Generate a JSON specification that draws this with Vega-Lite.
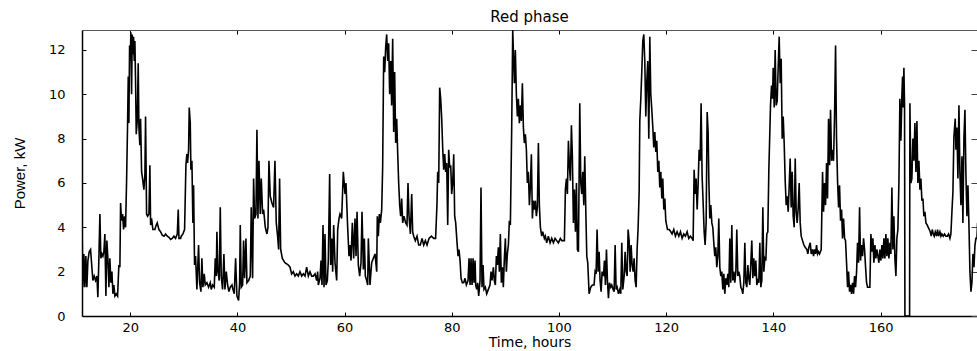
{
"$schema": "https://vega.github.io/schema/vega-lite/v6.json",
"width": 895, "height": 286,
"autosize": {"type": "none"},
"padding": {"left": 82, "top": 30, "right": 0, "bottom": 35},
"background": "white",
"view": {"stroke": null},
"title": {"text": "Red phase", "font": "DejaVu Sans", "fontSize": 15, "fontWeight": "normal", "color": "black", "offset": 5, "anchor": "middle"},
"data": {"values": [
{"t":11.04,"p":3.5},{"t":11.16,"p":1.3},{"t":11.35,"p":2.8},{"t":11.54,"p":1.3},{"t":11.72,"p":2.7},{"t":11.91,"p":1.3},{"t":12.1,"p":2.5},{"t":12.35,"p":2.9},{"t":12.6,"p":3.0},{"t":12.78,"p":2.4},{"t":13.03,"p":1.6},{"t":13.28,"p":1.8},{"t":13.53,"p":1.6},{"t":13.78,"p":1.8},{"t":13.96,"p":0.85},{"t":14.15,"p":2.6},{"t":14.34,"p":4.6},{"t":14.52,"p":2.6},{"t":14.71,"p":2.8},{"t":14.9,"p":2.7},{"t":15.08,"p":2.9},{"t":15.27,"p":3.7},{"t":15.46,"p":0.9},{"t":15.64,"p":3.4},{"t":15.83,"p":2.6},{"t":16.02,"p":1.3},{"t":16.2,"p":2.6},{"t":16.39,"p":1.5},{"t":16.58,"p":2.0},{"t":16.77,"p":1.0},{"t":16.95,"p":1.4},{"t":17.14,"p":0.9},{"t":17.39,"p":1.0},{"t":17.64,"p":0.9},{"t":17.88,"p":2.3},{"t":18.07,"p":2.2},{"t":18.2,"p":5.1},{"t":18.38,"p":4.3},{"t":18.57,"p":4.6},{"t":18.76,"p":3.9},{"t":18.94,"p":4.5},{"t":19.13,"p":4.0},{"t":19.32,"p":6.1},{"t":19.5,"p":8.6},{"t":19.63,"p":10.8},{"t":19.75,"p":8.7},{"t":19.88,"p":12.2},{"t":20.0,"p":11.5},{"t":20.12,"p":12.8},{"t":20.25,"p":10.0},{"t":20.37,"p":12.7},{"t":20.5,"p":11.8},{"t":20.62,"p":12.6},{"t":20.75,"p":11.5},{"t":20.87,"p":12.4},{"t":21.0,"p":10.5},{"t":21.12,"p":8.2},{"t":21.31,"p":8.8},{"t":21.49,"p":11.4},{"t":21.62,"p":8.5},{"t":21.8,"p":7.7},{"t":21.93,"p":8.9},{"t":22.12,"p":6.5},{"t":22.3,"p":6.2},{"t":22.55,"p":5.7},{"t":22.74,"p":6.4},{"t":22.86,"p":9.0},{"t":23.05,"p":4.6},{"t":23.24,"p":4.5},{"t":23.49,"p":4.6},{"t":23.67,"p":6.8},{"t":23.8,"p":4.1},{"t":23.98,"p":4.4},{"t":24.23,"p":3.9},{"t":24.6,"p":3.9},{"t":24.85,"p":4.1},{"t":25.04,"p":4.2},{"t":25.35,"p":3.9},{"t":25.66,"p":3.8},{"t":25.97,"p":3.65},{"t":26.29,"p":3.6},{"t":26.6,"p":3.7},{"t":26.91,"p":3.6},{"t":27.22,"p":3.55},{"t":27.53,"p":3.45},{"t":27.84,"p":3.5},{"t":28.15,"p":3.6},{"t":28.46,"p":3.5},{"t":28.78,"p":3.7},{"t":28.96,"p":4.8},{"t":29.09,"p":3.5},{"t":29.4,"p":3.5},
{"t":29.52,"p":3.6},{"t":29.83,"p":3.7},{"t":30.14,"p":3.9},{"t":30.39,"p":6.8},{"t":30.57,"p":7.3},{"t":30.7,"p":6.9},{"t":30.89,"p":7.5},{"t":31.01,"p":9.4},{"t":31.2,"p":8.7},{"t":31.32,"p":6.6},{"t":31.51,"p":7.0},{"t":31.69,"p":4.2},{"t":31.82,"p":5.9},{"t":32.0,"p":2.3},{"t":32.19,"p":2.7},{"t":32.44,"p":1.2},{"t":32.75,"p":3.2},{"t":32.94,"p":1.5},{"t":33.19,"p":1.1},{"t":33.37,"p":2.6},{"t":33.56,"p":1.3},{"t":33.81,"p":1.9},{"t":34.0,"p":1.4},{"t":34.31,"p":1.5},{"t":34.62,"p":1.3},{"t":34.93,"p":1.5},{"t":35.12,"p":1.2},{"t":35.37,"p":1.4},{"t":35.68,"p":1.3},{"t":35.86,"p":2.6},{"t":36.05,"p":1.8},{"t":36.17,"p":3.8},{"t":36.36,"p":2.0},{"t":36.61,"p":1.6},{"t":36.8,"p":4.9},{"t":36.98,"p":1.8},{"t":37.23,"p":1.2},{"t":37.48,"p":2.8},{"t":37.67,"p":1.2},{"t":37.92,"p":2.0},{"t":38.17,"p":1.4},{"t":38.41,"p":1.1},{"t":38.66,"p":1.3},{"t":38.98,"p":1.4},{"t":39.16,"p":1.2},{"t":39.41,"p":1.0},{"t":39.66,"p":2.6},{"t":39.91,"p":0.9},{"t":40.22,"p":0.7},{"t":40.41,"p":1.5},{"t":40.53,"p":4.1},{"t":40.72,"p":1.3},{"t":40.97,"p":1.4},{"t":41.15,"p":3.4},{"t":41.34,"p":1.7},{"t":41.59,"p":3.5},{"t":41.78,"p":1.5},{"t":42.09,"p":1.6},{"t":42.4,"p":1.8},{"t":42.58,"p":4.9},{"t":42.83,"p":1.7},{"t":43.02,"p":6.2},{"t":43.21,"p":4.4},{"t":43.46,"p":4.6},{"t":43.64,"p":8.4},{"t":43.83,"p":4.4},{"t":44.02,"p":7.0},{"t":44.26,"p":4.6},{"t":44.45,"p":6.2},{"t":44.7,"p":4.6},{"t":44.89,"p":4.8},{"t":45.2,"p":4.0},{"t":45.51,"p":3.7},{"t":45.7,"p":4.0},{"t":45.88,"p":7.0},{"t":46.13,"p":5.4},{"t":46.44,"p":5.1},{"t":46.75,"p":4.9},{"t":47.0,"p":7.0},{"t":47.25,"p":4.2},{"t":47.5,"p":3.6},{"t":47.69,"p":3.0},{"t":47.87,"p":6.2},
{"t":48.07,"p":3.0},{"t":48.38,"p":2.6},{"t":48.87,"p":2.4},{"t":49.5,"p":2.3},{"t":49.81,"p":2.2},{"t":50.12,"p":1.9},{"t":50.43,"p":2.0},{"t":50.74,"p":1.8},{"t":51.05,"p":1.9},{"t":51.36,"p":1.8},{"t":51.67,"p":2.0},{"t":51.99,"p":1.8},{"t":52.3,"p":1.9},{"t":52.61,"p":1.8},{"t":52.92,"p":2.2},{"t":53.23,"p":1.8},{"t":53.54,"p":2.0},{"t":53.85,"p":1.8},{"t":54.16,"p":1.8},{"t":54.48,"p":1.9},{"t":54.79,"p":1.6},{"t":54.97,"p":2.0},{"t":55.1,"p":1.4},{"t":55.41,"p":1.7},{"t":55.6,"p":2.5},{"t":55.78,"p":1.4},{"t":55.97,"p":4.1},{"t":56.16,"p":1.3},{"t":56.34,"p":3.7},{"t":56.53,"p":1.4},{"t":56.78,"p":1.6},{"t":56.96,"p":2.5},{"t":57.21,"p":6.4},{"t":57.4,"p":2.3},{"t":57.59,"p":3.5},{"t":57.77,"p":2.0},{"t":57.96,"p":4.1},{"t":58.21,"p":2.4},{"t":58.52,"p":1.6},{"t":58.71,"p":3.9},{"t":58.96,"p":4.4},{"t":59.14,"p":4.6},{"t":59.45,"p":4.4},{"t":59.76,"p":6.5},{"t":60.08,"p":5.5},{"t":60.26,"p":6.0},{"t":60.57,"p":4.0},{"t":60.82,"p":2.7},{"t":61.01,"p":3.2},{"t":61.2,"p":2.5},{"t":61.44,"p":4.2},{"t":61.69,"p":2.6},{"t":61.94,"p":4.4},{"t":62.13,"p":2.7},{"t":62.32,"p":4.7},{"t":62.56,"p":2.3},{"t":62.81,"p":1.8},{"t":63.06,"p":2.4},{"t":63.25,"p":4.7},{"t":63.5,"p":2.1},{"t":63.68,"p":3.5},{"t":63.87,"p":1.8},{"t":64.12,"p":1.6},{"t":64.31,"p":1.4},{"t":64.43,"p":3.5},{"t":64.74,"p":1.4},{"t":65.05,"p":2.4},{"t":65.36,"p":2.6},{"t":65.68,"p":2.8},{"t":65.99,"p":2.0},
{"t":66.1,"p":4.5},{"t":66.29,"p":3.6},{"t":66.48,"p":4.6},{"t":66.67,"p":4.2},{"t":66.92,"p":4.8},{"t":67.1,"p":6.7},{"t":67.29,"p":11.7},{"t":67.48,"p":11.0},{"t":67.66,"p":12.1},{"t":67.85,"p":12.7},{"t":68.04,"p":11.5},{"t":68.22,"p":12.3},{"t":68.41,"p":10.0},{"t":68.6,"p":11.5},{"t":68.78,"p":9.5},{"t":68.97,"p":12.5},{"t":69.16,"p":8.3},{"t":69.34,"p":11.0},{"t":69.53,"p":7.8},{"t":69.72,"p":8.9},{"t":69.9,"p":7.4},{"t":70.09,"p":6.0},{"t":70.28,"p":5.0},{"t":70.46,"p":4.5},{"t":70.65,"p":5.3},{"t":70.84,"p":4.2},{"t":71.08,"p":4.5},{"t":71.4,"p":4.2},{"t":71.64,"p":4.1},{"t":71.83,"p":6.0},{"t":72.02,"p":4.5},{"t":72.27,"p":3.7},{"t":72.52,"p":5.5},{"t":72.7,"p":3.8},{"t":72.89,"p":3.6},{"t":73.2,"p":3.4},{"t":73.51,"p":3.6},{"t":73.82,"p":3.2},{"t":74.13,"p":3.2},{"t":74.45,"p":3.5},{"t":74.76,"p":3.2},{"t":75.07,"p":3.4},{"t":75.38,"p":3.2},{"t":75.75,"p":3.5},{"t":76.19,"p":3.6},{"t":76.62,"p":3.5},{"t":76.98,"p":3.5},{"t":77.23,"p":5.0},{"t":77.37,"p":6.5},{"t":77.56,"p":6.0},{"t":77.74,"p":10.3},{"t":77.93,"p":9.8},{"t":78.12,"p":8.9},{"t":78.3,"p":7.6},{"t":78.49,"p":6.6},{"t":78.68,"p":7.3},{"t":78.86,"p":6.5},{"t":79.05,"p":6.9},{"t":79.24,"p":4.1},{"t":79.42,"p":7.5},{"t":79.61,"p":6.7},{"t":79.8,"p":6.8},{"t":79.98,"p":5.5},{"t":80.17,"p":6.0},{"t":80.36,"p":7.3},{"t":80.54,"p":4.5},{"t":80.73,"p":4.2},{"t":80.98,"p":3.3},{"t":81.17,"p":2.7},{"t":81.35,"p":3.0},{"t":81.54,"p":2.5},{"t":81.73,"p":1.7},{"t":81.97,"p":1.5},{"t":82.22,"p":1.5},{"t":82.47,"p":1.7},{"t":82.72,"p":1.4},{"t":83.03,"p":1.6},{"t":83.22,"p":2.6},{"t":83.41,"p":1.4},{"t":83.59,"p":2.6},{"t":83.78,"p":1.4},{"t":83.97,"p":2.6},{"t":84.15,"p":1.5},{"t":84.34,"p":2.5},
{"t":84.46,"p":1.4},{"t":84.65,"p":1.2},{"t":84.83,"p":1.5},{"t":85.02,"p":0.9},{"t":85.27,"p":1.6},{"t":85.45,"p":5.8},{"t":85.64,"p":1.3},{"t":85.83,"p":2.3},{"t":86.01,"p":1.2},{"t":86.26,"p":1.3},{"t":86.51,"p":1.0},{"t":86.82,"p":1.2},{"t":87.13,"p":1.4},{"t":87.32,"p":2.0},{"t":87.51,"p":1.6},{"t":87.76,"p":2.2},{"t":87.94,"p":1.6},{"t":88.13,"p":1.4},{"t":88.32,"p":2.7},{"t":88.5,"p":2.3},{"t":88.69,"p":3.1},{"t":88.88,"p":2.0},{"t":89.06,"p":3.7},{"t":89.25,"p":1.5},{"t":89.44,"p":2.2},{"t":89.62,"p":1.3},{"t":89.81,"p":2.6},{"t":90.0,"p":3.5},{"t":90.18,"p":2.0},{"t":90.37,"p":2.8},{"t":90.56,"p":3.2},{"t":90.74,"p":4.3},{"t":90.93,"p":4.1},{"t":91.18,"p":8.5},{"t":91.37,"p":12.9},{"t":91.55,"p":11.5},{"t":91.68,"p":10.5},{"t":91.86,"p":12.0},{"t":92.05,"p":10.0},{"t":92.24,"p":9.0},{"t":92.42,"p":9.8},{"t":92.61,"p":8.7},{"t":92.8,"p":9.5},{"t":92.98,"p":8.8},{"t":93.17,"p":10.5},{"t":93.36,"p":8.5},{"t":93.54,"p":7.8},{"t":93.73,"p":8.2},{"t":93.92,"p":7.5},{"t":94.1,"p":6.0},{"t":94.29,"p":6.5},{"t":94.48,"p":5.0},{"t":94.66,"p":5.8},{"t":94.85,"p":7.3},{"t":95.04,"p":4.4},{"t":95.22,"p":5.2},{"t":95.41,"p":4.8},{"t":95.6,"p":5.2},{"t":95.78,"p":4.5},{"t":95.97,"p":4.9},{"t":96.16,"p":7.8},{"t":96.34,"p":5.0},{"t":96.53,"p":4.0},{"t":96.78,"p":3.6},{"t":96.97,"p":3.8},{"t":97.28,"p":3.5},{"t":97.46,"p":3.6},{"t":97.71,"p":3.3},{"t":98.02,"p":3.6},{"t":98.34,"p":3.3},{"t":98.65,"p":3.5},{"t":98.96,"p":3.3},{"t":99.27,"p":3.5},{"t":99.58,"p":3.4},{"t":99.89,"p":3.3},{"t":100.26,"p":3.5},{"t":100.51,"p":3.4},{"t":100.76,"p":3.4},{"t":101.01,"p":3.4},{"t":101.2,"p":5.7},{"t":101.39,"p":6.2},{"t":101.57,"p":5.5},{"t":101.76,"p":7.9},{"t":101.94,"p":6.8},{"t":102.13,"p":6.1},{"t":102.32,"p":8.6},{"t":102.5,"p":7.2},
{"t":102.69,"p":4.2},{"t":102.88,"p":5.7},{"t":103.07,"p":3.8},{"t":103.26,"p":6.0},{"t":103.44,"p":3.0},{"t":103.63,"p":2.9},{"t":103.88,"p":9.6},{"t":104.07,"p":6.0},{"t":104.25,"p":5.5},{"t":104.44,"p":6.5},{"t":104.63,"p":5.0},{"t":104.81,"p":7.2},{"t":105.0,"p":4.8},{"t":105.19,"p":2.7},{"t":105.37,"p":2.4},{"t":105.62,"p":1.0},{"t":105.93,"p":1.3},{"t":106.24,"p":1.4},{"t":106.55,"p":1.4},{"t":106.74,"p":2.0},{"t":106.93,"p":1.9},{"t":107.11,"p":3.9},{"t":107.3,"p":2.0},{"t":107.49,"p":2.9},{"t":107.67,"p":1.6},{"t":107.86,"p":1.1},{"t":108.05,"p":2.0},{"t":108.3,"p":1.8},{"t":108.48,"p":2.5},{"t":108.67,"p":1.4},{"t":108.86,"p":3.0},{"t":109.04,"p":1.6},{"t":109.23,"p":0.8},{"t":109.42,"p":1.5},{"t":109.67,"p":1.3},{"t":109.85,"p":1.4},{"t":110.1,"p":1.2},{"t":110.29,"p":1.1},{"t":110.48,"p":3.2},{"t":110.66,"p":1.2},{"t":110.85,"p":1.3},{"t":111.1,"p":1.0},{"t":111.35,"p":1.2},{"t":111.53,"p":1.0},{"t":111.72,"p":3.3},{"t":111.91,"p":1.2},{"t":112.16,"p":1.8},{"t":112.34,"p":2.9},{"t":112.53,"p":2.0},{"t":112.72,"p":1.8},{"t":112.9,"p":3.9},{"t":113.09,"p":3.4},{"t":113.28,"p":2.0},{"t":113.46,"p":3.2},{"t":113.65,"p":2.3},{"t":113.84,"p":2.0},{"t":114.02,"p":2.6},{"t":114.21,"p":1.6},{"t":114.4,"p":1.3},{"t":114.58,"p":3.0},{"t":114.77,"p":4.0},{"t":114.96,"p":5.6},{"t":115.08,"p":8.8},{"t":115.27,"p":9.8},{"t":115.45,"p":11.0},{"t":115.64,"p":12.4},{"t":115.83,"p":12.7},{"t":116.01,"p":11.5},{"t":116.2,"p":9.0},{"t":116.39,"p":10.6},{"t":116.57,"p":11.5},{"t":116.76,"p":8.0},{"t":116.95,"p":12.6},{"t":117.13,"p":10.0},{"t":117.32,"p":9.3},{"t":117.51,"p":8.5},{"t":117.69,"p":7.6},{"t":117.88,"p":8.3},{"t":118.07,"p":7.4},{"t":118.25,"p":7.9},{"t":118.44,"p":6.5},{"t":118.63,"p":7.0},{"t":118.81,"p":5.8},{"t":119.0,"p":6.5},{"t":119.19,"p":5.3},{"t":119.37,"p":6.2},{"t":119.56,"p":4.8},{"t":119.75,"p":5.3},{"t":119.93,"p":4.3},{"t":120.25,"p":3.9},{"t":120.56,"p":3.9},{"t":120.87,"p":3.8},
{"t":121.11,"p":3.7},{"t":121.42,"p":3.9},{"t":121.73,"p":3.6},{"t":122.04,"p":3.8},{"t":122.36,"p":3.6},{"t":122.67,"p":3.8},{"t":122.98,"p":3.5},{"t":123.29,"p":3.7},{"t":123.6,"p":3.6},{"t":123.91,"p":3.8},{"t":124.22,"p":3.5},{"t":124.53,"p":3.6},{"t":124.84,"p":3.5},{"t":125.03,"p":3.4},{"t":125.22,"p":6.6},{"t":125.4,"p":5.5},{"t":125.59,"p":6.2},{"t":125.78,"p":4.8},{"t":125.96,"p":5.9},{"t":126.15,"p":7.5},{"t":126.34,"p":7.0},{"t":126.52,"p":9.6},{"t":126.71,"p":6.3},{"t":126.9,"p":5.1},{"t":127.09,"p":3.8},{"t":127.27,"p":3.2},{"t":127.46,"p":4.2},{"t":127.65,"p":9.2},{"t":127.83,"p":8.3},{"t":127.96,"p":6.2},{"t":128.14,"p":4.4},{"t":128.33,"p":5.0},{"t":128.52,"p":4.2},{"t":128.7,"p":4.0},{"t":128.89,"p":3.3},{"t":129.08,"p":2.7},{"t":129.26,"p":3.1},{"t":129.45,"p":2.2},{"t":129.64,"p":2.7},{"t":129.82,"p":4.4},{"t":130.01,"p":2.2},{"t":130.2,"p":1.8},{"t":130.38,"p":2.0},{"t":130.57,"p":1.2},{"t":130.76,"p":1.9},{"t":130.94,"p":1.0},{"t":131.13,"p":1.7},{"t":131.32,"p":1.4},{"t":131.5,"p":1.9},{"t":131.69,"p":1.3},{"t":131.88,"p":3.5},{"t":132.06,"p":1.5},{"t":132.25,"p":4.1},{"t":132.44,"p":1.6},{"t":132.62,"p":2.0},{"t":132.81,"p":1.5},{"t":133.0,"p":2.0},{"t":133.18,"p":3.9},{"t":133.37,"p":1.8},{"t":133.56,"p":2.0},{"t":133.74,"p":1.8},{"t":133.93,"p":1.3},{"t":134.12,"p":1.2},{"t":134.3,"p":1.0},{"t":134.49,"p":1.5},{"t":134.68,"p":3.3},{"t":134.86,"p":1.5},{"t":135.05,"p":1.3},{"t":135.24,"p":2.3},{"t":135.42,"p":1.7},{"t":135.61,"p":1.4},{"t":135.8,"p":2.4},{"t":135.98,"p":3.4},{"t":136.17,"p":1.7},{"t":136.36,"p":2.6},{"t":136.54,"p":1.8},{"t":136.73,"p":2.5},{"t":136.92,"p":1.4},{"t":137.1,"p":1.6},{"t":137.29,"p":1.5},{"t":137.48,"p":3.3},{"t":137.66,"p":1.3},{"t":137.85,"p":1.6},{"t":138.04,"p":4.9},{"t":138.22,"p":2.0},{"t":138.41,"p":2.6},{"t":138.6,"p":2.5},{"t":138.78,"p":3.7},{"t":138.97,"p":3.8},{"t":139.16,"p":6.6},
{"t":139.29,"p":7.8},{"t":139.47,"p":9.5},{"t":139.66,"p":10.4},{"t":139.85,"p":9.8},{"t":139.97,"p":11.2},{"t":140.16,"p":9.4},{"t":140.34,"p":12.0},{"t":140.53,"p":9.5},{"t":140.72,"p":9.7},{"t":140.9,"p":11.2},{"t":141.09,"p":12.6},{"t":141.28,"p":10.5},{"t":141.46,"p":11.6},{"t":141.65,"p":8.0},{"t":141.84,"p":9.0},{"t":142.02,"p":7.8},{"t":142.21,"p":6.1},{"t":142.4,"p":5.0},{"t":142.58,"p":5.4},{"t":142.77,"p":4.7},{"t":142.96,"p":5.9},{"t":143.14,"p":7.1},{"t":143.33,"p":4.9},{"t":143.52,"p":6.5},{"t":143.7,"p":4.5},{"t":143.89,"p":4.0},{"t":144.08,"p":7.1},{"t":144.26,"p":4.7},{"t":144.45,"p":4.2},{"t":144.64,"p":4.9},{"t":144.82,"p":6.0},{"t":145.01,"p":4.2},{"t":145.2,"p":3.6},{"t":145.45,"p":3.4},{"t":145.7,"p":3.2},{"t":145.94,"p":3.1},{"t":146.26,"p":3.0},{"t":146.44,"p":2.8},{"t":146.63,"p":3.1},{"t":146.88,"p":3.3},{"t":147.07,"p":2.8},{"t":147.31,"p":3.0},{"t":147.5,"p":2.7},{"t":147.69,"p":3.0},{"t":147.87,"p":2.8},{"t":148.06,"p":3.2},{"t":148.25,"p":2.8},{"t":148.43,"p":2.9},{"t":148.62,"p":2.8},{"t":148.93,"p":3.0},{"t":149.18,"p":6.5},{"t":149.37,"p":4.7},{"t":149.55,"p":6.0},{"t":149.74,"p":5.0},{"t":149.93,"p":6.9},{"t":150.11,"p":5.3},{"t":150.3,"p":8.9},{"t":150.49,"p":6.8},{"t":150.67,"p":9.3},{"t":150.86,"p":7.0},{"t":151.05,"p":7.5},{"t":151.23,"p":7.0},{"t":151.42,"p":9.0},{"t":151.61,"p":12.2},{"t":151.79,"p":8.0},{"t":151.98,"p":6.1},{"t":152.17,"p":4.9},{"t":152.35,"p":5.9},{"t":152.54,"p":4.3},{"t":152.73,"p":4.8},{"t":152.91,"p":3.5},{"t":153.1,"p":4.4},{"t":153.29,"p":3.5},{"t":153.47,"p":3.4},{"t":153.66,"p":2.4},{"t":153.85,"p":1.3},{"t":154.03,"p":2.0},{"t":154.22,"p":1.1},{"t":154.41,"p":1.4},{"t":154.59,"p":1.0},{"t":154.78,"p":1.5},{"t":154.97,"p":1.0},{"t":155.15,"p":1.8},{"t":155.34,"p":1.3},{"t":155.53,"p":2.0},{"t":155.71,"p":3.3},{"t":155.9,"p":2.4},{"t":156.09,"p":4.9},{"t":156.27,"p":2.5},{"t":156.46,"p":3.2},{"t":156.65,"p":2.7},{"t":156.83,"p":3.5},{"t":157.02,"p":3.0},{"t":157.21,"p":2.2},{"t":157.39,"p":1.5},{"t":157.58,"p":1.3},{"t":157.77,"p":1.3},
{"t":158.01,"p":1.3},{"t":158.2,"p":3.7},{"t":158.39,"p":2.9},{"t":158.57,"p":3.5},{"t":158.76,"p":2.4},{"t":158.95,"p":3.2},{"t":159.13,"p":2.6},{"t":159.32,"p":3.0},{"t":159.51,"p":2.7},{"t":159.69,"p":2.4},{"t":159.88,"p":3.0},{"t":160.07,"p":2.5},{"t":160.25,"p":3.2},{"t":160.44,"p":2.6},{"t":160.63,"p":3.5},{"t":160.81,"p":2.6},{"t":161.0,"p":3.7},{"t":161.19,"p":2.7},{"t":161.37,"p":3.5},{"t":161.56,"p":2.6},{"t":161.75,"p":3.3},{"t":161.93,"p":2.8},{"t":162.12,"p":5.8},{"t":162.31,"p":3.0},{"t":162.49,"p":4.5},{"t":162.68,"p":2.6},{"t":162.87,"p":1.8},{"t":163.05,"p":3.5},{"t":163.24,"p":3.9},{"t":163.43,"p":6.0},{"t":163.61,"p":9.8},{"t":163.8,"p":7.9},{"t":163.99,"p":10.0},{"t":164.11,"p":10.8},{"t":164.23,"p":9.4},{"t":164.36,"p":11.2},{"t":164.48,"p":9.5},{"t":164.55,"p":0},{"t":165.42,"p":0},{"t":165.48,"p":9.6},{"t":165.67,"p":6.0},{"t":165.85,"p":6.2},{"t":166.04,"p":8.0},{"t":166.23,"p":7.0},{"t":166.41,"p":8.7},{"t":166.6,"p":6.5},{"t":166.79,"p":8.8},{"t":166.97,"p":6.0},{"t":167.16,"p":7.0},{"t":167.35,"p":5.7},{"t":167.53,"p":6.2},{"t":167.72,"p":5.2},{"t":167.91,"p":5.3},{"t":168.09,"p":4.5},{"t":168.28,"p":4.7},{"t":168.47,"p":4.2},{"t":168.72,"p":4.1},{"t":168.9,"p":4.0},{"t":169.09,"p":3.9},{"t":169.28,"p":3.8},{"t":169.46,"p":3.6},{"t":169.65,"p":3.9},{"t":169.84,"p":3.7},{"t":170.02,"p":3.6},{"t":170.21,"p":3.8},{"t":170.46,"p":3.6},{"t":170.64,"p":3.9},{"t":170.83,"p":3.6},{"t":171.08,"p":3.8},{"t":171.27,"p":3.6},{"t":171.45,"p":3.7},{"t":171.7,"p":3.6},{"t":171.95,"p":3.7},{"t":172.2,"p":3.6},{"t":172.45,"p":3.6},{"t":172.7,"p":3.7},{"t":172.95,"p":3.5},{"t":173.13,"p":3.7},{"t":173.32,"p":4.7},{"t":173.51,"p":5.6},{"t":173.69,"p":8.1},{"t":173.94,"p":8.9},{"t":174.07,"p":7.5},{"t":174.25,"p":8.5},{"t":174.44,"p":6.2},{"t":174.63,"p":9.5},{"t":174.81,"p":6.5},{"t":175.0,"p":5.0},{"t":175.19,"p":7.2},{"t":175.37,"p":4.2},{"t":175.56,"p":8.0},{"t":175.75,"p":9.3},{"t":175.93,"p":6.4},{"t":176.12,"p":4.5},{"t":176.31,"p":5.9},{"t":176.49,"p":4.2},{"t":176.68,"p":2.0},{"t":176.87,"p":1.1},{"t":177.05,"p":1.5},{"t":177.24,"p":2.8},{"t":177.43,"p":2.2},{"t":177.62,"p":3.2},{"t":177.8,"p":3.5},{"t":177.99,"p":3.5},{"t":178.11,"p":4.2}
]},
"layer": [
 {
  "mark": {"type": "line", "color": "black", "strokeWidth": 1.6, "clip": true, "interpolate": "linear"},
  "encoding": {
   "x": {"field": "t", "type": "quantitative", "scale": {"domain": [11, 178], "nice": false, "zero": false},
     "axis": {"orient": "bottom", "values": [20,40,60,80,100,120,140,160], "title": "Time, hours", "grid": false,
       "domainColor": "black", "domainWidth": 1.5, "tickColor": "black", "tickSize": -4, "tickWidth": 1,
       "labelPadding": 9, "labelFont": "DejaVu Sans", "labelFontSize": 13, "labelColor": "black",
       "titleFont": "DejaVu Sans", "titleFontSize": 14, "titleFontWeight": "normal", "titleColor": "black", "titlePadding": 1}},
   "y": {"field": "p", "type": "quantitative", "scale": {"domain": [0, 12.9], "nice": false},
     "axis": {"orient": "left", "values": [0,2,4,6,8,10,12], "title": "Power, kW", "grid": false,
       "domainColor": "black", "domainWidth": 1.5, "tickColor": "black", "tickSize": -4, "tickWidth": 1,
       "labelPadding": 21, "labelFont": "DejaVu Sans", "labelFontSize": 13, "labelColor": "black",
       "titleFont": "Liberation Sans Narrow, Liberation Sans", "titleFontSize": 15, "titleFontWeight": "normal", "titleColor": "black", "titlePadding": 21}}
  }
 },
 {
  "mark": {"type": "line", "opacity": 0},
  "encoding": {
   "x": {"field": "t", "type": "quantitative", "scale": {"domain": [11, 178], "nice": false, "zero": false},
     "axis": {"orient": "top", "values": [20,40,60,80,100,120,140,160], "title": null, "labels": false, "grid": false,
       "domainColor": "#555555", "domainWidth": 1, "tickColor": "black", "tickSize": -4}},
   "y": {"field": "p", "type": "quantitative", "scale": {"domain": [0, 12.9], "nice": false},
     "axis": {"orient": "right", "values": [0,2,4,6,8,10,12], "title": null, "labels": false, "grid": false,
       "domainColor": "#555555", "domainWidth": 1, "tickColor": "#444444", "tickSize": -6}}
  }
 }
],
"resolve": {"axis": {"x": "independent", "y": "independent"}}
}
